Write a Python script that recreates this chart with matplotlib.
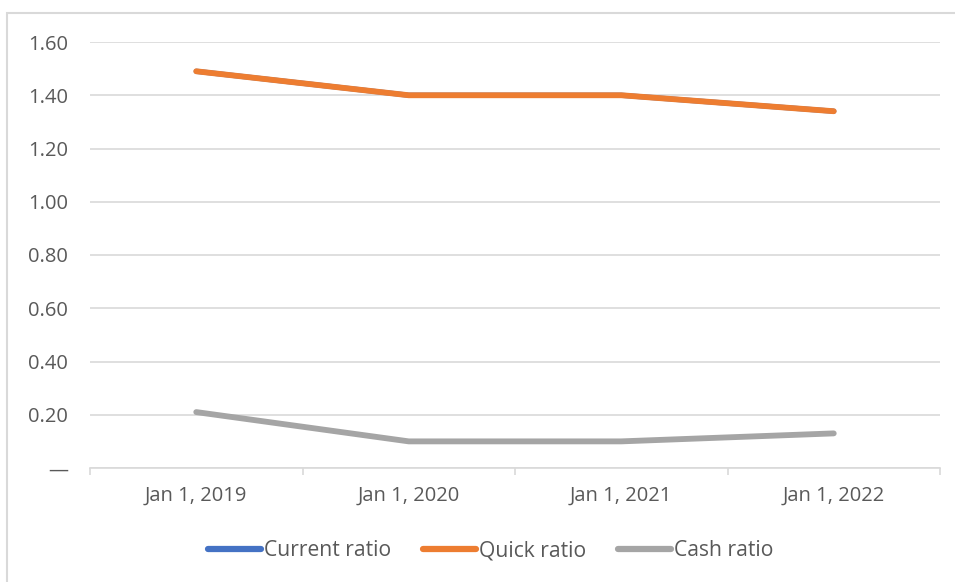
import matplotlib.pyplot as plt
from matplotlib.patches import Rectangle
from matplotlib.ticker import FixedLocator

plt.rcParams["font.family"] = ["Open Sans", "DejaVu Sans"]

dates = ["Jan 1, 2019", "Jan 1, 2020", "Jan 1, 2021", "Jan 1, 2022"]
current_ratio = [1.49, 1.40, 1.40, 1.34]
quick_ratio = [1.49, 1.40, 1.40, 1.34]
cash_ratio = [0.21, 0.10, 0.10, 0.13]
y_ticks = [0.0, 0.2, 0.4, 0.6, 0.8, 1.0, 1.2, 1.4, 1.6]
y_labels = ["—", "0.20", "0.40", "0.60", "0.80", "1.00", "1.20", "1.40", "1.60"]

grey_text = "#595959"
grid_col = "#d9d9d9"
fs = 14.5

fig = plt.figure(figsize=(9.55, 5.82), dpi=100)
ax = fig.add_axes([90 / 955, 114 / 582, 850 / 955, 426 / 582])

# outer chart border (cropped on right/bottom in the reference)
fig.patches.append(Rectangle((7 / 955, -0.1), 1.2, (582 - 13) / 582 + 0.1,
                             transform=fig.transFigure, fill=False,
                             edgecolor=grid_col, linewidth=1.5))

x = list(range(len(dates)))
lw = 4.2
ax.plot(x, current_ratio, color="#4472c4", lw=lw - 0.4, solid_capstyle="round",
        label="Current ratio")
ax.plot(x, quick_ratio, color="#ed7d31", lw=lw, solid_capstyle="round",
        label="Quick ratio")
ax.plot(x, cash_ratio, color="#a5a5a5", lw=lw, solid_capstyle="round",
        label="Cash ratio")

ax.set_xlim(-0.5, len(dates) - 0.5)
ax.set_ylim(0, 1.6)
ax.set_yticks(y_ticks)
ax.set_yticklabels(y_labels)
ax.set_xticks(x)
ax.set_xticklabels(dates)
ax.xaxis.set_minor_locator(FixedLocator([i - 0.5 for i in range(len(dates) + 1)]))

ax.grid(axis="y", color=grid_col, lw=1.2)
ax.set_axisbelow(True)
for s in ["top", "right", "left"]:
    ax.spines[s].set_visible(False)
ax.spines["bottom"].set_color(grid_col)
ax.spines["bottom"].set_linewidth(1.2)

ax.tick_params(axis="y", length=0, pad=16, labelsize=fs, labelcolor=grey_text)
ax.tick_params(axis="x", which="major", length=0, pad=13, labelsize=fs,
               labelcolor=grey_text)
ax.tick_params(axis="x", which="minor", length=5, width=1.2, color=grid_col)

leg = fig.legend(loc="center", bbox_to_anchor=(0.514, 1 - 551 / 582), ncol=3,
                 frameon=False, fontsize=15.2, labelcolor=grey_text,
                 handlelength=2.5, handletextpad=0.15, columnspacing=1.5)
for h in leg.legend_handles:
    h.set_linewidth(4.5)

fig.savefig("out.png", dpi=100)
